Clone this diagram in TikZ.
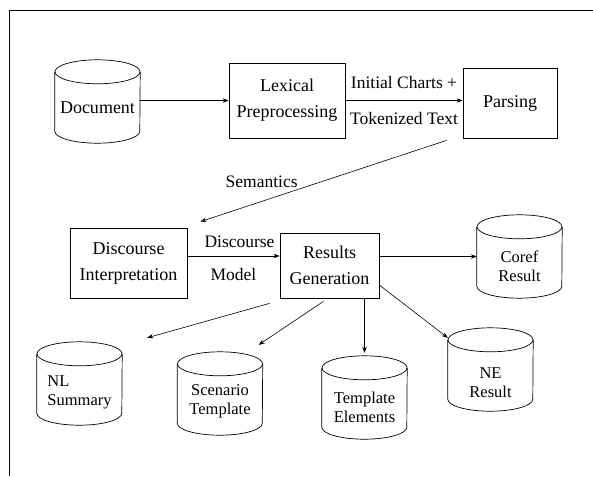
\documentclass[tikz,border=0pt]{standalone}
\usepackage{fontspec}
\setmainfont{Liberation Serif}
\newfontfamily\tms{Liberation Serif}
\usetikzlibrary{arrows.meta,calc}
\begin{document}
\begin{tikzpicture}[x=1pt,y=-1pt,
  procbox/.style={draw, line width=0.7pt, inner sep=0pt, align=center, font=\tms\fontsize{18}{26}\selectfont},
  dbnode/.style={minimum width=85pt, minimum height=83pt, inner sep=0pt},
  dbtext/.style={align=center, font=\tms\fontsize{16.5}{19}\selectfont},
  edgelabel/.style={font=\tms\fontsize{17.5}{20}\selectfont, inner sep=1pt},
  arr/.style={-{Stealth[length=6pt,width=4.5pt]}, line width=0.6pt},
  cylline/.style={line width=0.7pt}
]
\useasboundingbox (0,0) rectangle (593,476);
\draw[line width=1pt] (9,476) -- (9,11) -- (593,11);

% process boxes
\node[procbox, minimum width=116pt, minimum height=75pt] (lex) at (287,100.5) {Lexical\\Preprocessing};
\node[procbox, minimum width=94pt, minimum height=70pt] (pars) at (510,103) {Parsing};
\node[procbox, minimum width=117pt, minimum height=70pt] (disc) at (128.5,263) {Discourse\\Interpretation};
\node[procbox, minimum width=99pt, minimum height=65pt] (res) at (329.5,265.5) {Results\\Generation};

% databases
\node[dbnode, label={[dbtext, font=\tms\fontsize{18}{20}\selectfont, yshift=-6pt]center:Document}] (doc) at (97.5,101.5) {};
\node[dbnode, label={[dbtext, yshift=-10pt]center:Coref\\Result}] (coref) at (519.5,256.5) {};
\node[dbnode, label={[dbtext, align=left, yshift=-9pt]center:NL\\Summary}] (nl) at (79.5,383.5) {};
\node[dbnode, label={[dbtext, yshift=-7.5pt]center:Scenario\\Template}] (scen) at (220,393.5) {};
\node[dbnode, label={[dbtext, yshift=-10pt]center:Template\\Elements}] (tel) at (364.5,397.5) {};
\node[dbnode, label={[dbtext, yshift=-13pt]center:NE\\Result}] (ne) at (490.5,369.5) {};

\foreach \n in {doc,coref,nl,scen,tel,ne}{
  \draw[cylline] ($(\n.north west)+(0,12)$) -- ($(\n.south west)+(0,-12)$)
    arc[start angle=180,end angle=360,x radius=42.5pt,y radius=12pt]
    -- ($(\n.north east)+(0,12)$);
  \draw[cylline] ($(\n.north)+(0,12)$) ellipse[x radius=42.5pt,y radius=12pt];
}

% connectors
\draw[arr] (doc.east |- lex.west) -- (lex.west);
\draw[arr] (lex.east) -- (lex.east -| pars.west)
  node[midway, yshift=18pt, edgelabel] (lbl1) {Initial Charts +}
  node[midway, yshift=-18pt, edgelabel] (lbl2) {Tokenized Text};
\draw[arr] ($(pars.south west)+(-16,2)$) -- ($(disc.north east)+(13,-6)$)
  node[pos=0.6, anchor=south east, edgelabel] (lbl3) {Semantics};
\draw[arr] ($(disc.east)+(0,-7)$) -- ($(disc.east -| res.west)+(0,-7)$)
  node[midway, yshift=14pt, xshift=6pt, edgelabel] (lbl4) {Discourse}
  node[midway, yshift=-19pt, edgelabel] (lbl5) {Model};
\draw[arr] (coref.west -| res.east) -- (coref.west);
\draw[arr] ($(res.south west)+(-10,5)$) -- ($(nl.north east)+(25,-4)$);
\draw[arr] ($(res.south)+(-6,3)$) -- ($(scen.north east)+(-4,-7)$);
\draw[arr] (res.south -| tel.north) -- ($(tel.north)+(0,-3)$);
\draw[arr] ($(res.east)+(0,19.5)$) -- ($(ne.north west)+(0,10)$);
\end{tikzpicture}
\end{document}
